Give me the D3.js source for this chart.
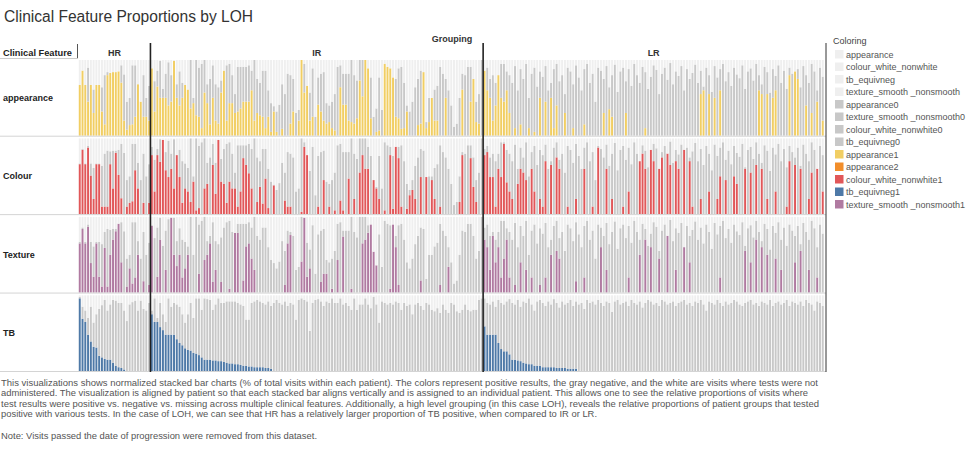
<!DOCTYPE html>
<html><head><meta charset="utf-8">
<script src="https://cdn.jsdelivr.net/npm/d3@7"></script>
<style>body{margin:0;background:#fff;} text{font-family:Arial,"Liberation Sans",sans-serif;}</style>
</head><body><svg id="c" width="975" height="456"></svg>
<script>
// ---------------- DATA (percent of visits per patient) ----------------
const groups = ["HR", "IR", "LR"];
const features = ["appearance", "Colour", "Texture", "TB"];
const legendItems = ["appearance","colour_white_nonwhite","tb_equivneg","texture_smooth _nonsmooth",
  "appearance0","texture_smooth _nonsmooth0","colour_white_nonwhite0","tb_equivneg0",
  "appearance1","appearance2","colour_white_nonwhite1","tb_equivneg1","texture_smooth _nonsmooth1"];

// HR
const hrExamTot = [67,86,67,90,67,61,67,67,64,80,84,83,84,84,85,93,81,45,50,93,93,68,45,80,50,66];
const hrAppPos  = [67,86,67,45,67,30,67,67,32,15,80,83,84,84,85,70,20,8,14,15,25,68,45,25,25,20];
const hrColPos  = [66,85,66,88,51,20,66,66,10,10,10,66,34,81,52,21,0,10,15,17,58,34,0,15,0,15];
const hrTexPos  = [65,84,65,87,39,21,65,21,8,59,8,50,70,81,91,40,0,8,32,12,20,50,0,15,0,10];
const hrTbTot   = [98,85,80,70,85,64,75,82,87,94,80,88,94,93,90,90,80,66,88,91,93,80,93,82,80,90];
const hrTbPos   = [96,69,65,48,39,32,31,20,18,16,15,15,11,7,5,4,2,0,0,0,0,0,0,0,0,0];

// IR
const irExamTot = [89,72,86,99,62,82,97,80,99,68,85,70,
  67,61,100,50,100,90,95,100,68,75,93,68,64,73,86,93,95,80,55,91,91,91,91,93,86,100,75,70,86,86,60,43,39,32,41,68,55,82,80,75,
  30,34,100,95,66,57,89,25,77,82,84,43,40,45,55,91,93,82,82,82,100,80,73,100,100,100,89,77,25,36,77,34,95,91,89,77,75,89,
  91,70,40,32,45,64,75,86,84,18,50,50,61,66,91,82,75,60,40,12,16,50,82,80,91,91,75,45,55,100];
const irAppPos = [89,32,65,50,50,50,40,45,99,50,40,50,
  67,61,36,43,27,25,10,57,43,15,50,20,16,57,86,20,43,43,30,32,36,45,45,45,60,20,30,27,25,10,25,5,32,5,0,9,0,0,16,32,
  0,20,100,57,66,20,25,0,41,32,20,16,18,10,7,0,64,41,41,20,18,16,23,73,52,100,89,23,0,5,7,0,95,91,89,77,25,23,
  9,10,32,0,0,0,14,16,84,10,18,50,20,20,0,0,50,0,0,0,0,0,61,0,0,45,75,18,16,0];
const irColPos = [78,30,78,69,98,58,49,60,34,78,49,15,
  34,30,16,43,5,8,0,34,40,0,65,27,98,43,40,15,43,34,34,10,30,74,65,54,34,0,16,36,14,47,8,0,38,0,0,0,18,10,10,0,
  0,0,3,89,78,0,0,0,10,0,45,0,10,0,5,0,18,5,0,47,0,20,0,55,78,60,60,0,45,34,20,0,5,0,78,7,89,74,
  10,0,7,25,32,20,0,49,0,49,0,45,20,0,10,0,0,0,0,0,0,16,78,0,0,74,36,16,0,0];
const irTexPos = [88,0,21,70,0,30,0,99,50,35,50,20,
  32,50,0,0,0,25,0,43,50,65,14,30,0,14,0,0,5,0,79,79,0,16,61,65,45,30,0,0,0,0,0,0,0,0,0,0,10,65,76,0,
  0,0,41,99,21,32,0,0,0,14,25,25,0,5,0,43,0,74,0,0,5,0,0,0,65,70,79,90,54,36,0,0,0,0,5,90,60,10,
  0,0,0,0,0,0,0,16,0,0,0,0,0,0,10,0,0,34,0,0,0,0,0,0,0,0,0,0,0,0];
const irTbTot = [80,96,70,90,75,65,96,85,90,88,85,75,
  64,75,90,70,96,96,81,96,95,94,81,88,96,90,90,92,92,92,92,90,88,86,68,68,90,92,94,92,90,88,92,86,90,94,90,88,92,86,90,88,
  68,94,96,94,92,53,90,94,95,92,86,92,90,96,90,90,96,88,90,86,81,96,81,88,88,96,88,83,98,88,64,92,90,88,90,88,92,90,
  81,90,86,88,75,88,90,86,81,90,88,81,79,83,77,88,81,77,90,88,79,77,81,88,81,79,81,81,94,96];
const irTbPos = [75,65,65,58,54,48,48,48,48,42,37,34,30,28,27,24,23,21,18,15,15,15,14,14,13,13,12,11,10,10,9,9,8,7,7,6,6,5,5,5,5,4,4,3,
  0,0,0,0,0,0,0,0,0,0,0,0,0,0,0,0,0,0,0,0,0,0,0,0,0,0,0,0,0,0,0,0,0,0,0,0,0,0,
  0,0,0,0,0,0,0,0,0,0,0,0,0,0,0,0,0,0,0,0,0,0,0,0,0,0,0,0,0,0,0,0,0,0,0,0,0,0];

// LR
const lrExamTot = [86,90,75,80,70,80,95,95,85,80,
  70,92,60,88,75,95,50,82,90,65, 85,78,92,60,70,88,95,72,80,55,
  90,85,68,93,77,60,88,95,70,82, 45,90,86,75,92,64,80,94,58,85,
  90,72,88,66,95,80,70,91,84,62, 78,93,87,55,82,90,74,96,68,85,
  79,92,60,88,75,83,94,70,86,65, 90,80,58,92,77,88,95,72,84,66,
  90,81,76,93,62,85,89,73,95,80, 68,91,84,57,88,79,93,70,86,62,
  90,82,75,88,64,92,80,70,95,85, 60,90,78];
const lrAppPos = [86,60,50,20,40,80,50,45,60,30,
  0,10,0,15,0,0,10,0,5,0, 50,0,45,0,50,10,40,0,0,30,
  0,0,10,0,0,0,15,0,0,0, 0,0,0,30,0,35,25,0,0,0,
  0,30,0,0,0,0,0,0,10,0, 0,0,0,0,0,0,0,0,0,0,
  0,0,0,0,0,0,0,0,55,60, 0,55,0,50,0,60,0,0,0,0,
  0,0,0,0,0,0,0,0,0,60, 55,0,55,0,50,60,0,0,0,0,
  80,0,85,75,0,0,40,0,30,0, 45,0,20];
const lrColPos = [78,82,49,49,10,60,49,93,42,30,
  20,0,40,60,55,45,0,60,30,0, 20,10,70,0,65,0,75,60,0,0,
  10,0,0,20,0,0,60,0,0,10, 0,88,0,0,60,0,20,0,0,0,
  10,0,30,0,0,0,70,80,60,0, 85,70,0,60,75,0,80,65,0,70,
  60,0,85,0,70,10,0,0,20,0, 0,30,0,0,20,50,0,45,0,0,
  50,40,0,0,60,0,55,0,65,0, 60,0,20,0,0,30,0,0,0,10,
  70,0,65,0,60,0,0,20,55,0, 60,0,30];
const lrTexPos = [70,60,30,75,40,60,20,45,70,20,
  0,10,0,40,0,30,0,20,0,0, 10,0,20,0,50,0,55,45,0,0,
  0,0,0,15,0,0,20,0,0,0, 0,0,60,0,30,0,0,0,0,0,
  0,0,20,0,0,0,50,0,70,0, 60,0,0,45,0,0,75,0,0,30,
  0,0,60,0,40,0,0,0,0,0, 0,0,0,0,0,20,0,0,0,0,
  0,0,0,0,55,0,40,0,70,0, 60,0,50,0,0,45,0,30,0,0,
  0,0,40,0,55,0,0,30,0,0, 20,0,0];
const lrTbTot = [96,90,88,92,85,94,90,88,92,95,
  90,88,94,85,92,90,96,88,80,92,94,90,86,92,88,95,90,84,92,88,90,94,86,92,88,90,82,94,90,92,
  88,94,90,86,92,90,78,92,94,88,90,92,86,94,90,88,92,84,90,94,92,88,90,86,94,92,88,90,92,86,
  90,92,94,88,90,86,92,90,94,88,80,92,90,88,94,90,86,92,88,90,94,92,88,86,90,92,94,88,90,86,
  92,90,88,94,86,90,92,88,90,94,86,92,90,88,92,86,94,90,88,80,92,90,86];
const lrTbPos = [59,48,48,48,48,37,29,26,26,22,15,15,14,13,11,10,9,9,7,7,7,5,5,5,5,5,4,4,4,4,3,3,3,3,
  0,0,0,0,0,0,0,0,0,0,0,0,0,0,0,0,0,0,0,0,0,0,0,0,0,0,0,0,0,0,0,0,0,0,0,0,0,0,0,0,0,0,0,0,0,
  0,0,0,0,0,0,0,0,0,0,0,0,0,0,0,0,0,0,0,0,0,0,0,0,0,0,0,0,0,0,0,0,0,0,0,0,0,0,0,0,0,0,0,0];

const groupData = {
  HR: {examTot: hrExamTot, appearance: hrAppPos, Colour: hrColPos, Texture: hrTexPos, tbTot: hrTbTot, TB: hrTbPos},
  IR: {examTot: irExamTot, appearance: irAppPos, Colour: irColPos, Texture: irTexPos, tbTot: irTbTot, TB: irTbPos},
  LR: {examTot: lrExamTot, appearance: lrAppPos, Colour: lrColPos, Texture: lrTexPos, tbTot: lrTbTot, TB: lrTbPos}
};

const bodyLines = [
 "This visualizations shows normalized stacked bar charts  (% of total visits within each patient). The colors represent positive results, the gray negative, and the white are visits where tests were not",
 "administered. The visualization is aligned by patient so that each stacked bar aligns vertically and is assigned to an individual patient. This allows one to see the relative proportions of visits where",
 "test results were positive vs. negative vs. missing across multiple clinical features. Additionally, a high level grouping (in this case LOH), reveals the relative proportions of patient groups that tested",
 "positive with various tests. In the case of LOH, we can see that HR has a relatively larger proportion of TB positive, when compared to IR or LR."
];
const noteLine = "Note: Visits passed the date of progression were removed from this dataset.";

// ---------------- STYLE ----------------
const posColor = {appearance: "#f1ce63", Colour: "#e15759", Texture: "#b07aa1", TB: "#4e79a7"};
const negColor = "#c8c8c8", missColor = "#efefef";
const legendColors = ["#efefef","#efefef","#efefef","#efefef","#c8c8c8","#c8c8c8","#c8c8c8","#c8c8c8",
  "#f1ce63","#f28e2b","#e15759","#4e79a7","#b07aa1"];

// ---------------- BUILD ----------------
const patients = [];
groups.forEach(g => {
  const gd = groupData[g];
  gd.TB.forEach((_, i) => {
    const rec = {id: g + "_" + i, group: g};
    features.forEach(f => {
      const tot = f === "TB" ? (gd.tbTot[i] ?? 90) : (gd.examTot[i] ?? 80);
      const pos = gd[f][i] ?? 0;
      const neg = Math.max(0, tot - pos);
      rec[f] = {pos: pos, neg: neg, miss: Math.max(0, 100 - pos - neg)};
    });
    patients.push(rec);
  });
});

const svg = d3.select("#c");
const left = 78.5, right = 824;
const x = d3.scaleBand().domain(patients.map(d => d.id)).range([left, right]).paddingInner(0.3).paddingOuter(0.1);
const rowBand = d3.scaleBand().domain(features).range([60, 371]).paddingInner(0.035);

// Title
svg.append("text").attr("x", 4).attr("y", 22).attr("font-size", 16).attr("fill", "#333")
  .attr("textLength", 249).attr("lengthAdjust", "spacingAndGlyphs")
  .text("Clinical Feature Proportions by LOH");

// Grouping header
svg.append("text").attr("x", 452).attr("y", 42).attr("text-anchor", "middle").attr("font-size", 9)
  .attr("font-weight", "bold").attr("fill", "#333").text("Grouping");
svg.append("text").attr("x", 3).attr("y", 56).attr("font-size", 9).attr("font-weight", "bold").attr("fill", "#222")
  .attr("textLength", 69).attr("lengthAdjust", "spacingAndGlyphs").text("Clinical Feature");
svg.append("line").attr("x1", 77.5).attr("x2", 77.5).attr("y1", 44).attr("y2", 58).attr("stroke", "#555");
svg.append("line").attr("x1", 0).attr("x2", 78).attr("y1", 58.5).attr("y2", 58.5).attr("stroke", "#ccc");

groups.forEach(g => {
  const ids = patients.filter(p => p.group === g).map(p => p.id);
  const x0 = x(ids[0]), x1 = x(ids[ids.length - 1]) + x.bandwidth();
  svg.append("text").attr("x", (x0 + x1) / 2).attr("y", 56).attr("text-anchor", "middle")
    .attr("font-size", 9).attr("font-weight", "bold").attr("fill", "#333").text(g);
});

// Rows
const stack = d3.stack().keys(["pos", "neg", "miss"]);
features.forEach(f => {
  const top = rowBand(f), bot = top + rowBand.bandwidth();
  const y = d3.scaleLinear().domain([0, 100]).range([bot, top]);
  const rowData = patients.map(p => Object.assign({id: p.id}, p[f]));
  const series = stack(rowData);
  const colors = [posColor[f], negColor, missColor];
  const g = svg.append("g");
  g.selectAll("g.s").data(series).join("g").attr("fill", (d, i) => colors[i])
    .selectAll("rect").data(d => d).join("rect")
    .attr("x", d => x(d.data.id)).attr("width", x.bandwidth())
    .attr("y", d => y(d[1])).attr("height", d => Math.max(0, y(d[0]) - y(d[1])));
  svg.append("text").attr("x", 3).attr("y", (top + bot) / 2 + 3).attr("font-size", 9)
    .attr("font-weight", "bold").attr("fill", "#222").text(f);
  svg.append("line").attr("x1", 0).attr("x2", 826).attr("y1", bot + 0.5).attr("y2", bot + 0.5)
    .attr("stroke", "#d4d4d4");
});

// group dividers
const lastRowBot = rowBand("TB") + rowBand.bandwidth();
["IR", "LR"].forEach(g => {
  const first = patients.find(p => p.group === g).id;
  const xv = x(first) - x.step() * x.paddingInner() / 2;
  svg.append("line").attr("x1", xv).attr("x2", xv).attr("y1", 43).attr("y2", lastRowBot + 1)
    .attr("stroke", "#222").attr("stroke-width", 1.6);
});
svg.append("line").attr("x1", 826).attr("x2", 826).attr("y1", 43).attr("y2", lastRowBot + 1)
  .attr("stroke", "#333").attr("stroke-width", 1);

// Legend
svg.append("text").attr("x", 833).attr("y", 44).attr("font-size", 9).attr("fill", "#444").text("Coloring");
const lg = svg.append("g");
legendItems.forEach((t, i) => {
  const yy = 50 + i * 12.5;
  lg.append("rect").attr("x", 835).attr("y", yy).attr("width", 8.5).attr("height", 8.5).attr("fill", legendColors[i]);
  lg.append("text").attr("x", 846).attr("y", yy + 7.5).attr("font-size", 9).attr("fill", "#555").text(t);
});

// Body text
const bodyWidths = [817, 807, 818, 596];
bodyLines.forEach((t, i) => {
  svg.append("text").attr("x", 1).attr("y", 386 + i * 10.3).attr("font-size", 9).attr("fill", "#555")
    .attr("textLength", bodyWidths[i]).attr("lengthAdjust", "spacingAndGlyphs").text(t);
});
svg.append("text").attr("x", 1).attr("y", 439).attr("font-size", 9).attr("fill", "#555")
  .attr("textLength", 316).attr("lengthAdjust", "spacingAndGlyphs").text(noteLine);
</script></body></html>
